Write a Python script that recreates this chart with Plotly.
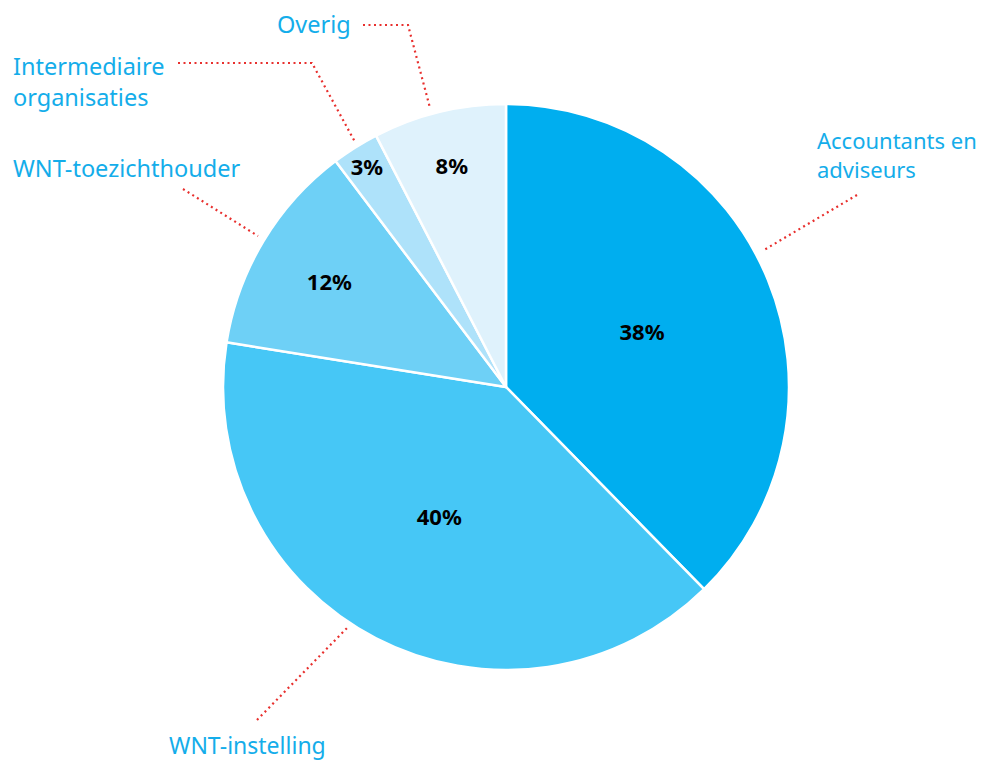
import plotly.graph_objects as go

categories = ["Accountants en adviseurs", "WNT-instelling", "WNT-toezichthouder",
              "Intermediaire organisaties", "Overig"]
values = [37.7, 39.9, 12.2, 2.7, 7.6]
colors = ["#00AEEF", "#46C7F6", "#6ED0F6", "#AEE2FA", "#DFF2FC"]

W, H = 986, 762


def px(x, y):
    return x / W, 1 - y / H


fig = go.Figure()
cx, cy, r = 506, 387, 283
x0, y0 = px(cx - r, cy + r)
x1, y1 = px(cx + r, cy - r)
fig.add_trace(go.Pie(
    labels=categories, values=values, sort=False, direction="clockwise", rotation=0,
    marker=dict(colors=colors, line=dict(color="white", width=2.5)),
    texttemplate="<b>%{value:.0f}%</b>", textposition="inside",
    insidetextorientation="horizontal",
    textfont=dict(family="Noto Sans", size=22, color="black"),
    domain=dict(x=[x0, x1], y=[y0, y1]), showlegend=False, hoverinfo="label+value",
))

label_color = "#14ADEA"
labels_pos = [
    # text, x, y, xanchor, size
    ("Accountants en<br>adviseurs", 815, 154, "left", 22),
    ("WNT-instelling", 167, 745, "left", 23),
    ("WNT-toezichthouder", 11, 168, "left", 23.5),
    ("Intermediaire<br>organisaties", 11, 81, "left", 23.5),
    ("Overig", 353, 24, "right", 23.5),
]
for (t, x, y, xa, s) in labels_pos:
    ax, ay = px(x, y)
    fig.add_annotation(text=t, x=ax, y=ay, xref="paper", yref="paper",
                       xanchor=xa, yanchor="middle", showarrow=False, align="left",
                       font=dict(family="Noto Sans", size=s, color=label_color))

leaders = [
    [(857, 195), (764, 250)],
    [(257, 720), (347, 628)],
    [(183, 189), (258, 236)],
    [(178, 63), (312, 63), (355, 142)],
    [(363, 25), (408, 25), (430, 108)],
]
for pts in leaders:
    p = [px(*q) for q in pts]
    path = "M " + " L ".join(f"{a:.5f},{b:.5f}" for a, b in p)
    fig.add_shape(type="path", path=path, xref="paper", yref="paper",
                  line=dict(color="#E8302E", width=2.2, dash="2px,3.5px"))

fig.update_layout(width=W, height=H, margin=dict(l=0, r=0, t=0, b=0),
                  paper_bgcolor="white", plot_bgcolor="white")
fig.write_html("out.html", config={"displayModeBar": False},
               post_script="document.body.style.margin='0';")
